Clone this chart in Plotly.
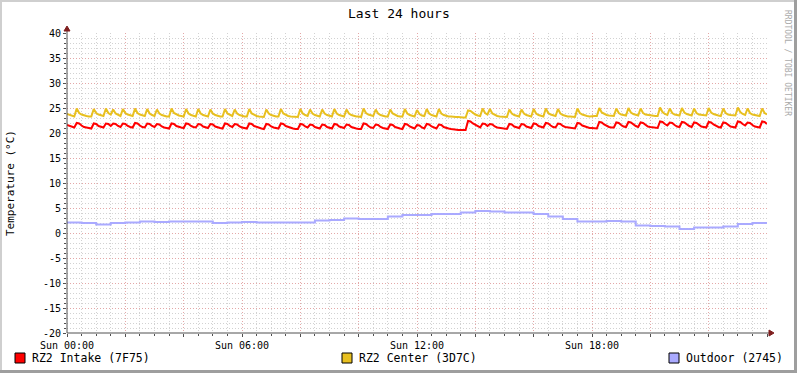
import plotly.graph_objects as go
import pandas as pd

# ---------------- data ----------------
START = "2024-01-07 00:00"   # a Sunday
STEP_MIN = 5                 # sample step of the intake/center series
OUT_STEP_MIN = 30            # sample step of the outdoor series

center_c = [
    23.8, 23.6, 23.4, 23.3, 24.9, 24.0, 23.7, 23.5, 23.4, 23.3, 23.3, 24.8,
    24.0, 23.7, 23.5, 23.4, 24.9, 24.0, 23.7, 24.7, 23.9, 23.6, 23.4, 24.8,
    24.0, 23.7, 23.5, 23.4, 24.9, 24.0, 23.7, 23.5, 23.4, 24.8, 23.9, 23.6,
    23.4, 24.7, 23.9, 23.6, 23.4, 23.3, 23.3, 24.9, 24.0, 23.7, 23.5, 23.4,
    23.3, 24.8, 23.9, 23.6, 23.4, 23.3, 24.8, 23.9, 23.6, 23.4, 23.3, 24.7,
    23.9, 23.6, 23.4, 23.3, 23.3, 24.8, 23.9, 23.6, 23.4, 24.7, 23.9, 23.6,
    23.4, 23.3, 23.3, 24.8, 23.9, 23.6, 23.4, 23.3, 23.2, 23.2, 24.7, 23.9,
    23.6, 23.4, 23.3, 23.3, 24.8, 23.9, 23.6, 23.4, 23.3, 23.3, 23.2, 23.2,
    24.8, 23.9, 23.6, 23.4, 24.7, 23.9, 23.6, 23.4, 23.3, 24.7, 23.9, 23.6,
    23.4, 23.3, 24.8, 23.9, 23.6, 23.4, 23.3, 24.7, 23.9, 23.6, 23.4, 23.3,
    23.3, 23.2, 24.9, 24.0, 23.7, 23.5, 23.4, 24.7, 23.9, 23.6, 23.4, 23.3,
    23.3, 24.7, 23.9, 23.6, 23.4, 23.3, 23.3, 24.8, 23.9, 23.6, 23.4, 23.3,
    24.6, 23.8, 23.5, 23.4, 24.8, 23.9, 23.6, 23.4, 23.3, 24.8, 23.9, 23.6,
    23.4, 23.3, 23.3, 23.2, 23.2, 23.2, 23.1, 23.1, 23.1, 24.5, 24.4, 24.0,
    23.7, 23.5, 23.4, 24.9, 24.0, 23.7, 24.8, 23.9, 23.6, 23.4, 23.3, 23.3,
    23.2, 23.2, 24.7, 23.9, 23.6, 23.4, 23.3, 24.7, 23.9, 23.6, 23.4, 23.3,
    24.8, 23.9, 23.6, 23.4, 23.3, 24.9, 24.0, 23.7, 23.5, 23.4, 24.8, 23.9,
    23.6, 23.4, 23.3, 23.3, 23.2, 23.2, 24.9, 24.0, 23.7, 23.5, 23.4, 23.3,
    23.4, 23.4, 23.4, 25.0, 24.1, 23.8, 23.6, 23.5, 23.5, 23.4, 24.9, 24.0,
    23.7, 23.6, 23.5, 25.0, 24.1, 23.8, 23.6, 23.5, 24.9, 24.0, 23.7, 23.6,
    23.5, 23.5, 23.4, 23.4, 25.1, 24.2, 23.8, 23.6, 24.9, 24.0, 23.7, 23.6,
    23.5, 25.0, 24.1, 23.8, 23.6, 23.5, 24.9, 24.0, 23.7, 23.6, 23.5, 23.5,
    25.0, 24.1, 23.8, 23.6, 23.5, 23.4, 24.9, 24.0, 23.7, 23.6, 23.5, 23.5,
    25.1, 24.2, 23.8, 23.6, 24.9, 24.0, 23.7, 23.6, 23.5, 23.4, 24.9, 24.0,
    23.7,
]

intake_c = [
    21.6, 21.4, 21.2, 21.1, 22.0, 21.9, 21.5, 21.2, 21.1, 21.0, 20.9, 21.9,
    21.8, 21.4, 21.2, 21.1, 21.9, 21.8, 21.4, 21.9, 21.8, 21.4, 21.2, 21.9,
    21.8, 21.4, 21.2, 21.1, 22.0, 21.9, 21.5, 21.2, 21.1, 21.9, 21.8, 21.4,
    21.2, 21.8, 21.7, 21.3, 21.1, 21.0, 20.9, 21.9, 21.8, 21.4, 21.2, 21.1,
    21.0, 21.9, 21.8, 21.4, 21.2, 21.1, 21.8, 21.7, 21.3, 21.1, 21.0, 21.8,
    21.7, 21.3, 21.1, 21.0, 20.9, 21.9, 21.8, 21.4, 21.2, 21.8, 21.7, 21.3,
    21.1, 21.0, 20.9, 21.9, 21.8, 21.4, 21.2, 21.0, 20.9, 20.8, 21.8, 21.7,
    21.3, 21.1, 21.0, 20.9, 21.9, 21.8, 21.4, 21.2, 21.0, 20.9, 20.8, 20.8,
    21.8, 21.7, 21.3, 21.1, 21.7, 21.6, 21.2, 21.0, 20.9, 21.7, 21.6, 21.2,
    21.0, 20.9, 21.8, 21.7, 21.3, 21.1, 21.0, 21.7, 21.6, 21.2, 21.0, 20.9,
    20.8, 20.8, 21.9, 21.8, 21.4, 21.1, 21.0, 21.7, 21.6, 21.2, 21.0, 20.9,
    20.8, 21.7, 21.6, 21.2, 21.0, 20.9, 20.8, 21.8, 21.7, 21.3, 21.1, 20.9,
    21.6, 21.5, 21.1, 20.9, 21.8, 21.7, 21.3, 21.1, 20.9, 21.7, 21.6, 21.2,
    21.0, 20.9, 20.8, 20.7, 20.7, 20.6, 20.6, 20.6, 20.6, 22.4, 22.3, 21.9,
    21.6, 21.3, 21.1, 21.9, 21.8, 21.4, 21.8, 21.7, 21.3, 21.1, 21.0, 20.9,
    20.8, 20.8, 21.8, 21.7, 21.3, 21.1, 21.0, 21.8, 21.7, 21.3, 21.1, 21.0,
    21.9, 21.8, 21.4, 21.2, 21.1, 22.0, 21.9, 21.5, 21.2, 21.1, 21.9, 21.8,
    21.4, 21.2, 21.1, 21.0, 20.9, 20.9, 22.0, 21.9, 21.5, 21.3, 21.1, 21.0,
    21.0, 20.9, 20.9, 22.2, 22.1, 21.7, 21.4, 21.2, 21.1, 21.1, 22.1, 22.0,
    21.6, 21.3, 21.2, 22.2, 22.1, 21.7, 21.4, 21.2, 22.1, 22.0, 21.6, 21.3,
    21.2, 21.1, 21.0, 21.0, 22.3, 22.2, 21.8, 21.5, 22.1, 22.0, 21.6, 21.3,
    21.2, 22.2, 22.1, 21.7, 21.4, 21.2, 22.1, 22.0, 21.6, 21.3, 21.2, 21.1,
    22.2, 22.1, 21.7, 21.4, 21.2, 21.1, 22.1, 22.0, 21.6, 21.3, 21.2, 21.1,
    22.3, 22.2, 21.8, 21.5, 22.1, 22.0, 21.6, 21.3, 21.2, 21.1, 22.3, 22.2,
    21.8,
]

outdoor_c = [
    2.1, 2.0, 1.7, 2.0, 2.1, 2.3, 2.2, 2.3, 2.3, 2.3, 2.0, 2.1,
    2.2, 2.1, 2.1, 2.1, 2.1, 2.5, 2.6, 2.9, 2.8, 2.8, 3.3, 3.6,
    3.6, 3.8, 3.8, 4.1, 4.4, 4.3, 4.1, 4.1, 3.8, 3.3, 2.8, 2.3,
    2.3, 2.4, 2.3, 1.5, 1.4, 1.3, 0.8, 1.1, 1.1, 1.3, 1.8, 2.0,
    2.0,
]

series_names = ["RZ2 Intake (7F75)", "RZ2 Center (3D7C)", "Outdoor (2745)"]
series_colors = ["#FF0000", "#E8C020", "#AAAAFF"]

x_tick_hours = [0, 2, 4, 6, 8, 10, 12, 14, 16, 18, 20, 22, 24]
x_tick_labels = ["Sun 00:00", "", "", "Sun 06:00", "", "", "Sun 12:00", "", "",
                 "Sun 18:00", "", "", ""]
y_tick_values = [-20, -15, -10, -5, 0, 5, 10, 15, 20, 25, 30, 35, 40]

title_text = "Last 24 hours"
y_title = "Temperature (°C)"
side_text = "RRDTOOL / TOBI OETIKER"

# ---------------- figure ----------------
W, H = 797, 373
L, R, T, B = 67, 767, 33, 333          # plot area in pixels
FONT = "DejaVu Sans Mono"

t0 = pd.Timestamp(START)
t_main = pd.date_range(t0, periods=len(center_c), freq=f"{STEP_MIN}min")
t_out = pd.date_range(t0, periods=len(outdoor_c), freq=f"{OUT_STEP_MIN}min")


def px(x):
    return (x - L) / (R - L)


def py(y):
    return (B - y) / (B - T)


fig = go.Figure()
fig.add_trace(go.Scatter(x=t_out, y=outdoor_c, mode="lines", line_shape="hv",
                         line=dict(color=series_colors[2], width=2),
                         name=series_names[2], hoverinfo="skip"))
fig.add_trace(go.Scatter(x=t_main, y=center_c, mode="lines",
                         line=dict(color=series_colors[1], width=2),
                         name=series_names[1], hoverinfo="skip"))
fig.add_trace(go.Scatter(x=t_main, y=intake_c, mode="lines",
                         line=dict(color=series_colors[0], width=2),
                         name=series_names[0], hoverinfo="skip"))

shapes = []
# outer frame (rrdtool-like shading)
shapes.append(dict(type="line", xref="paper", yref="paper", x0=px(0), x1=px(W),
                   y0=py(1), y1=py(1), line=dict(color="#CFCFCF", width=2)))
shapes.append(dict(type="line", xref="paper", yref="paper", x0=px(1), x1=px(1),
                   y0=py(0), y1=py(H), line=dict(color="#CFCFCF", width=2)))
shapes.append(dict(type="line", xref="paper", yref="paper", x0=px(0), x1=px(W),
                   y0=py(H - 1.5), y1=py(H - 1.5), line=dict(color="#9E9E9E", width=3)))
shapes.append(dict(type="line", xref="paper", yref="paper", x0=px(W - 1.5), x1=px(W - 1.5),
                   y0=py(0), y1=py(H), line=dict(color="#9E9E9E", width=3)))

# axes with arrows
axis_col = "#505050"
arrow_col = "#7F1F1F"
shapes.append(dict(type="line", xref="paper", yref="paper", x0=px(L), x1=px(R + 3),
                   y0=py(B), y1=py(B), line=dict(color=axis_col, width=1)))
shapes.append(dict(type="line", xref="paper", yref="paper", x0=px(L), x1=px(L),
                   y0=py(B), y1=py(T - 4), line=dict(color=axis_col, width=1)))
shapes.append(dict(type="path", xref="paper", yref="paper",
                   path=f"M {px(R+2)},{py(B-3)} L {px(R+7)},{py(B)} L {px(R+2)},{py(B+3)} Z",
                   fillcolor=arrow_col, line=dict(color=arrow_col, width=1)))
shapes.append(dict(type="path", xref="paper", yref="paper",
                   path=f"M {px(L-3)},{py(T-2)} L {px(L)},{py(T-7)} L {px(L+3)},{py(T-2)} Z",
                   fillcolor=arrow_col, line=dict(color=arrow_col, width=1)))

annotations = []
annotations.append(dict(text=title_text, xref="paper", yref="paper", x=px(W / 2), y=py(13),
                        xanchor="center", yanchor="middle", showarrow=False,
                        font=dict(family=FONT, size=13, color="#000000")))
annotations.append(dict(text=y_title, xref="paper", yref="paper", x=px(10), y=py(183),
                        xanchor="center", yanchor="middle", showarrow=False, textangle=-90,
                        font=dict(family=FONT, size=11, color="#000000")))
annotations.append(dict(text=side_text, xref="paper", yref="paper", x=px(788), y=py(8),
                        xanchor="center", yanchor="top", showarrow=False, textangle=90,
                        font=dict(family=FONT, size=8, color="#AAAAAA")))

legend_x = [15, 342, 669]
for name, col, lx in zip(series_names, series_colors, legend_x):
    shapes.append(dict(type="rect", xref="paper", yref="paper",
                       x0=px(lx), x1=px(lx + 10), y0=py(363), y1=py(353),
                       fillcolor=col, line=dict(color="#000000", width=1)))
    annotations.append(dict(text=name, xref="paper", yref="paper", x=px(lx + 15), y=py(358),
                            xanchor="left", yanchor="middle", showarrow=False,
                            font=dict(family=FONT, size=11.5, color="#000000")))

fig.update_layout(
    width=W, height=H,
    margin=dict(l=L, r=W - R, t=T, b=H - B, pad=0, autoexpand=False),
    paper_bgcolor="#FFFFFF", plot_bgcolor="#FFFFFF",
    showlegend=False,
    shapes=shapes, annotations=annotations,
    font=dict(family=FONT, size=10, color="#000000"),
)

MAJOR_GRID = "#E4A8A8"
MINOR_GRID = "#D2D2D2"
DASH = "1px,2px"

fig.update_xaxes(
    range=[t0, t0 + pd.Timedelta(hours=24)],
    tickmode="array",
    tickvals=[t0 + pd.Timedelta(hours=h) for h in x_tick_hours],
    ticktext=x_tick_labels,
    showgrid=True, gridcolor=MAJOR_GRID, griddash=DASH, gridwidth=1,
    ticks="outside", ticklen=3, tickcolor=axis_col,
    tickfont=dict(family=FONT, size=10, color="#000000"),
    minor=dict(dtick=30 * 60 * 1000, showgrid=True, gridcolor=MINOR_GRID,
               griddash=DASH, gridwidth=1, ticks="outside", ticklen=2,
               tickcolor=axis_col),
    showline=False, zeroline=False, fixedrange=True,
)
fig.update_yaxes(
    range=[-20, 40],
    tickmode="array", tickvals=y_tick_values,
    ticktext=[str(v) for v in y_tick_values],
    showgrid=True, gridcolor=MAJOR_GRID, griddash=DASH, gridwidth=1,
    ticks="outside", ticklen=3, tickcolor=axis_col,
    tickfont=dict(family=FONT, size=10, color="#000000"),
    minor=dict(dtick=1, showgrid=True, gridcolor=MINOR_GRID, griddash=DASH,
               gridwidth=1, ticks="outside", ticklen=2, tickcolor=axis_col),
    showline=False, zeroline=False, fixedrange=True,
)

fig.write_html("out.html", config={"displayModeBar": False},
               post_script="document.body.style.margin='0';document.body.style.overflow='hidden';")
